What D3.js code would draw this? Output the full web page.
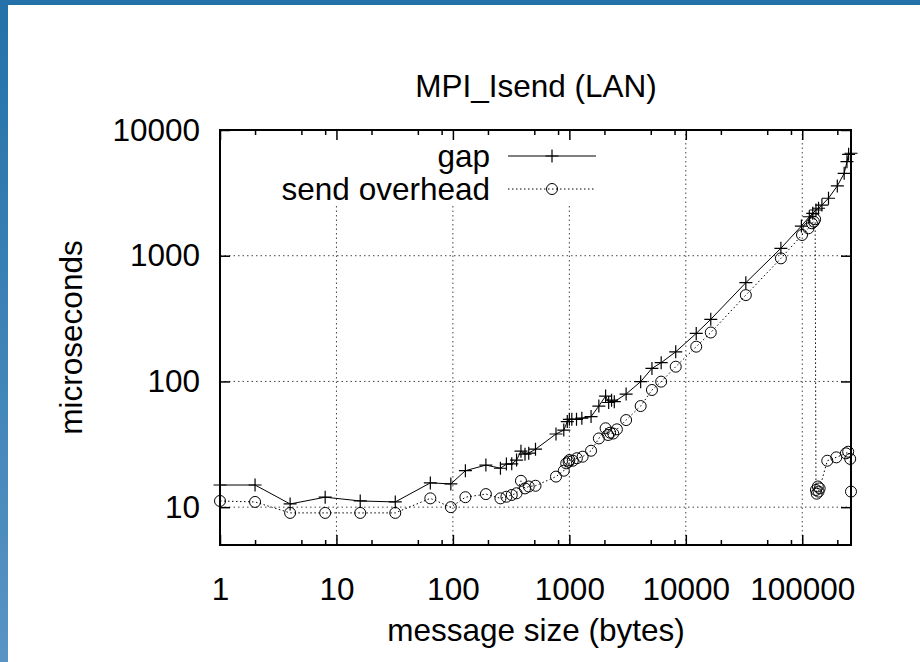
<!DOCTYPE html>
<html>
<head>
<meta charset="utf-8">
<script src="https://cdn.jsdelivr.net/npm/d3@7"></script>
<style>
    html, body { margin: 0; padding: 0; background: #fff; }
    svg text { font-family: "Liberation Sans", Arial, Helvetica, sans-serif; fill: #000; }
</style>
</head>
<body>
<svg id="chart" width="920" height="662"></svg>
<script>
// message sizes (bytes) and times (microseconds)
const gapSizes = [1, 2, 4, 8, 16, 32, 64, 96, 128,
    192, 256, 288, 320, 352, 384, 416, 448, 512,
    768, 896, 960, 1000, 1050, 1152, 1280, 1536, 1792,
    2048, 2176, 2304, 2432, 3072, 4096, 5120, 6144, 8192,
    12288, 16384, 32768, 65536, 98304, 115000, 123000, 131072, 138000,
    147456, 168000, 200000, 229000, 242000, 250000, 262144];
const gapTimes = [15.0, 15.0, 10.6, 12.0, 11.2, 11.0, 15.6, 15.3, 19.5,
    21.6, 20.4, 22, 22.1, 23.7, 27.9, 26.4, 26.9, 28.9,
    38.2, 41, 47.9, 50, 50, 50, 51, 52.5, 63.7,
    76.5, 68, 71, 69, 79.4, 99.6, 127, 141, 172,
    241, 312, 610, 1146, 1722, 2042, 2173, 2311, 2385,
    2529, 2865, 3591, 4519, 5595, 6410, 6530];

const ovhSizes = [1, 2, 4, 8, 16, 32, 64, 96, 128,
    192, 256, 288, 320, 352, 384, 416, 448, 512,
    768, 896, 940, 985, 1000, 1070, 1160, 1300, 1536,
    1792, 2048, 2150, 2240, 2380, 2560, 3072, 4096, 5120,
    6144, 8192, 12288, 16384, 32768, 65536, 99500, 113000, 121000,
    125800, 129000, 131072, 133000, 136000, 138000, 141000, 164000, 196000,
    237000, 248000, 258000, 262144];
const ovhTimes = [11.2, 11.0, 9.0, 9.0, 9.0, 9.0, 11.75, 10.0, 12.0,
    12.7, 11.75, 12.1, 12.5, 12.9, 16.2, 14.1, 14.6, 14.8,
    17.5, 19.5, 22.3, 23, 23.7, 23.4, 24.5, 25.2, 28.1,
    35.2, 42.4, 37.5, 39.1, 38.5, 41.6, 49.3, 63.7, 85.5,
    99.6, 131, 189, 245, 486, 953, 1462, 1652, 1811,
    1866, 1950, 13.7, 12.8, 14.6, 13.3, 14.1, 23.4, 24.9,
    26.8, 27.6, 24.2, 13.3];

const xTicks = [1, 10, 100, 1000, 10000, 100000];
const yTicks = [10, 100, 1000, 10000];
const minorSteps = [2, 5, 8];

const seriesNames = ['gap', 'send overhead'];
const title = 'MPI_Isend (LAN)';
const xTitle = 'message size (bytes)';
const yTitle = 'microseconds';

(function (d3) {
    const svg = d3.select('#chart');
    const fontSize = 31.5;
    const plot = {left: 220, right: 851, top: 130, bottom: 545};

    // blue frame on top / left
    const defs = svg.append('defs');
    const grad = defs.append('linearGradient').attr('id', 'edge')
        .attr('x1', 0).attr('y1', 0).attr('x2', 0).attr('y2', 1);
    grad.append('stop').attr('offset', '0%').attr('stop-color', '#2371a8');
    grad.append('stop').attr('offset', '100%').attr('stop-color', '#5894c4');
    svg.append('rect').attr('x', 0).attr('y', 0).attr('width', 920).attr('height', 5).attr('fill', '#2371a8');
    svg.append('rect').attr('x', 0).attr('y', 0).attr('width', 8).attr('height', 662).attr('fill', 'url(#edge)');

    const x = d3.scaleLog().domain([1, 262144]).range([plot.left, plot.right]);
    const y = d3.scaleLog().domain([5, 10000]).range([plot.bottom, plot.top]);

    const xMinor = [];
    xTicks.forEach(t => minorSteps.forEach(s => {
        if (t * s <= x.domain()[1]) xMinor.push(t * s);
    }));

    // grid
    const grid = svg.append('g').attr('class', 'grid')
        .attr('stroke', '#444').attr('stroke-width', 1).attr('stroke-dasharray', '1.5,3');
    grid.selectAll('.vg').data(xTicks.slice(1)).enter().append('line')
        .attr('x1', d => x(d)).attr('x2', d => x(d))
        .attr('y1', plot.bottom).attr('y2', plot.top);
    grid.selectAll('.hg').data(yTicks.slice(0, -1)).enter().append('line')
        .attr('y1', d => y(d)).attr('y2', d => y(d))
        .attr('x1', plot.left).attr('x2', plot.right);

    // legend area blanks the grid
    svg.append('rect').attr('x', 262).attr('y', plot.top + 1)
        .attr('width', 341).attr('height', 74).attr('fill', '#fff');

    // axes
    const fmt = d3.format('d');
    svg.append('g').attr('transform', 'translate(0,' + plot.bottom + ')')
        .call(d3.axisBottom(x).tickValues(xTicks).tickFormat(fmt).tickSize(-10).tickPadding(33));
    svg.append('g').attr('transform', 'translate(0,' + plot.top + ')')
        .call(d3.axisTop(x).tickValues(xTicks).tickFormat('').tickSize(-10));
    svg.append('g').attr('transform', 'translate(' + plot.left + ',0)')
        .call(d3.axisLeft(y).tickValues(yTicks).tickFormat(fmt).tickSize(-10).tickPadding(20));
    svg.append('g').attr('transform', 'translate(' + plot.right + ',0)')
        .call(d3.axisRight(y).tickValues(yTicks).tickFormat('').tickSize(-10));
    svg.append('g').attr('transform', 'translate(0,' + plot.bottom + ')')
        .call(d3.axisBottom(x).tickValues(xMinor).tickFormat('').tickSize(-5));
    svg.append('g').attr('transform', 'translate(0,' + plot.top + ')')
        .call(d3.axisTop(x).tickValues(xMinor).tickFormat('').tickSize(-5));

    svg.selectAll('.domain').remove();
    svg.selectAll('.tick line').attr('stroke', '#000').attr('stroke-width', 1.5);
    svg.selectAll('.tick text').style('font-size', fontSize + 'px')
        .style('font-family', '"Liberation Sans", Arial, sans-serif').attr('fill', '#000');

    svg.append('rect').attr('x', plot.left).attr('y', plot.top)
        .attr('width', plot.right - plot.left).attr('height', plot.bottom - plot.top)
        .attr('fill', 'none').attr('stroke', '#000').attr('stroke-width', 2);

    // series
    const gapData = gapSizes.map((s, i) => ({s: s, v: gapTimes[i]}));
    const ovhData = ovhSizes.map((s, i) => ({s: s, v: ovhTimes[i]}));
    const line = d3.line().x(d => x(d.s)).y(d => y(d.v));

    svg.append('path').datum(gapData).attr('d', line)
        .attr('fill', 'none').attr('stroke', '#000').attr('stroke-width', 1);
    svg.append('path').datum(ovhData).attr('d', line)
        .attr('fill', 'none').attr('stroke', '#000').attr('stroke-width', 1)
        .attr('stroke-dasharray', '1.5,2.5');

    function drawPlus(g, px, py) {
        g.append('path').attr('d', 'M' + (px - 6.5) + ',' + py + 'H' + (px + 6.5) + 'M' + px + ',' + (py - 6.5) + 'V' + (py + 6.5))
            .attr('stroke', '#000').attr('stroke-width', 1.2).attr('fill', 'none');
    }
    function drawCircle(g, px, py) {
        g.append('circle').attr('cx', px).attr('cy', py).attr('r', 5.5)
            .attr('fill', 'none').attr('stroke', '#000').attr('stroke-width', 1);
    }

    const marks = svg.append('g');
    gapData.forEach(d => drawPlus(marks, x(d.s), y(d.v)));
    ovhData.forEach(d => drawCircle(marks, x(d.s), y(d.v)));

    // legend
    const key = svg.append('g');
    const keyRows = [156, 189];
    key.selectAll('text').data(seriesNames).enter().append('text')
        .attr('x', 490).attr('y', (d, i) => keyRows[i])
        .attr('dy', '0.35em').attr('text-anchor', 'end')
        .style('font-size', fontSize + 'px').text(d => d);
    key.append('line').attr('x1', 508).attr('x2', 596).attr('y1', keyRows[0]).attr('y2', keyRows[0])
        .attr('stroke', '#000').attr('stroke-width', 1);
    key.append('line').attr('x1', 508).attr('x2', 596).attr('y1', keyRows[1]).attr('y2', keyRows[1])
        .attr('stroke', '#000').attr('stroke-width', 1).attr('stroke-dasharray', '1.5,2.5');
    drawPlus(key, 552, keyRows[0]);
    drawCircle(key, 552, keyRows[1]);

    // titles
    svg.append('text').attr('x', 536).attr('y', 97).attr('text-anchor', 'middle')
        .style('font-size', fontSize + 'px').text(title);
    svg.append('text').attr('x', 536).attr('y', 641).attr('text-anchor', 'middle')
        .style('font-size', fontSize + 'px').text(xTitle);
    svg.append('text').attr('transform', 'translate(82,' + ((plot.top + plot.bottom) / 2) + ') rotate(-90)')
        .attr('text-anchor', 'middle')
        .style('font-size', fontSize + 'px').text(yTitle);
})(d3);
</script>
</body>
</html>
